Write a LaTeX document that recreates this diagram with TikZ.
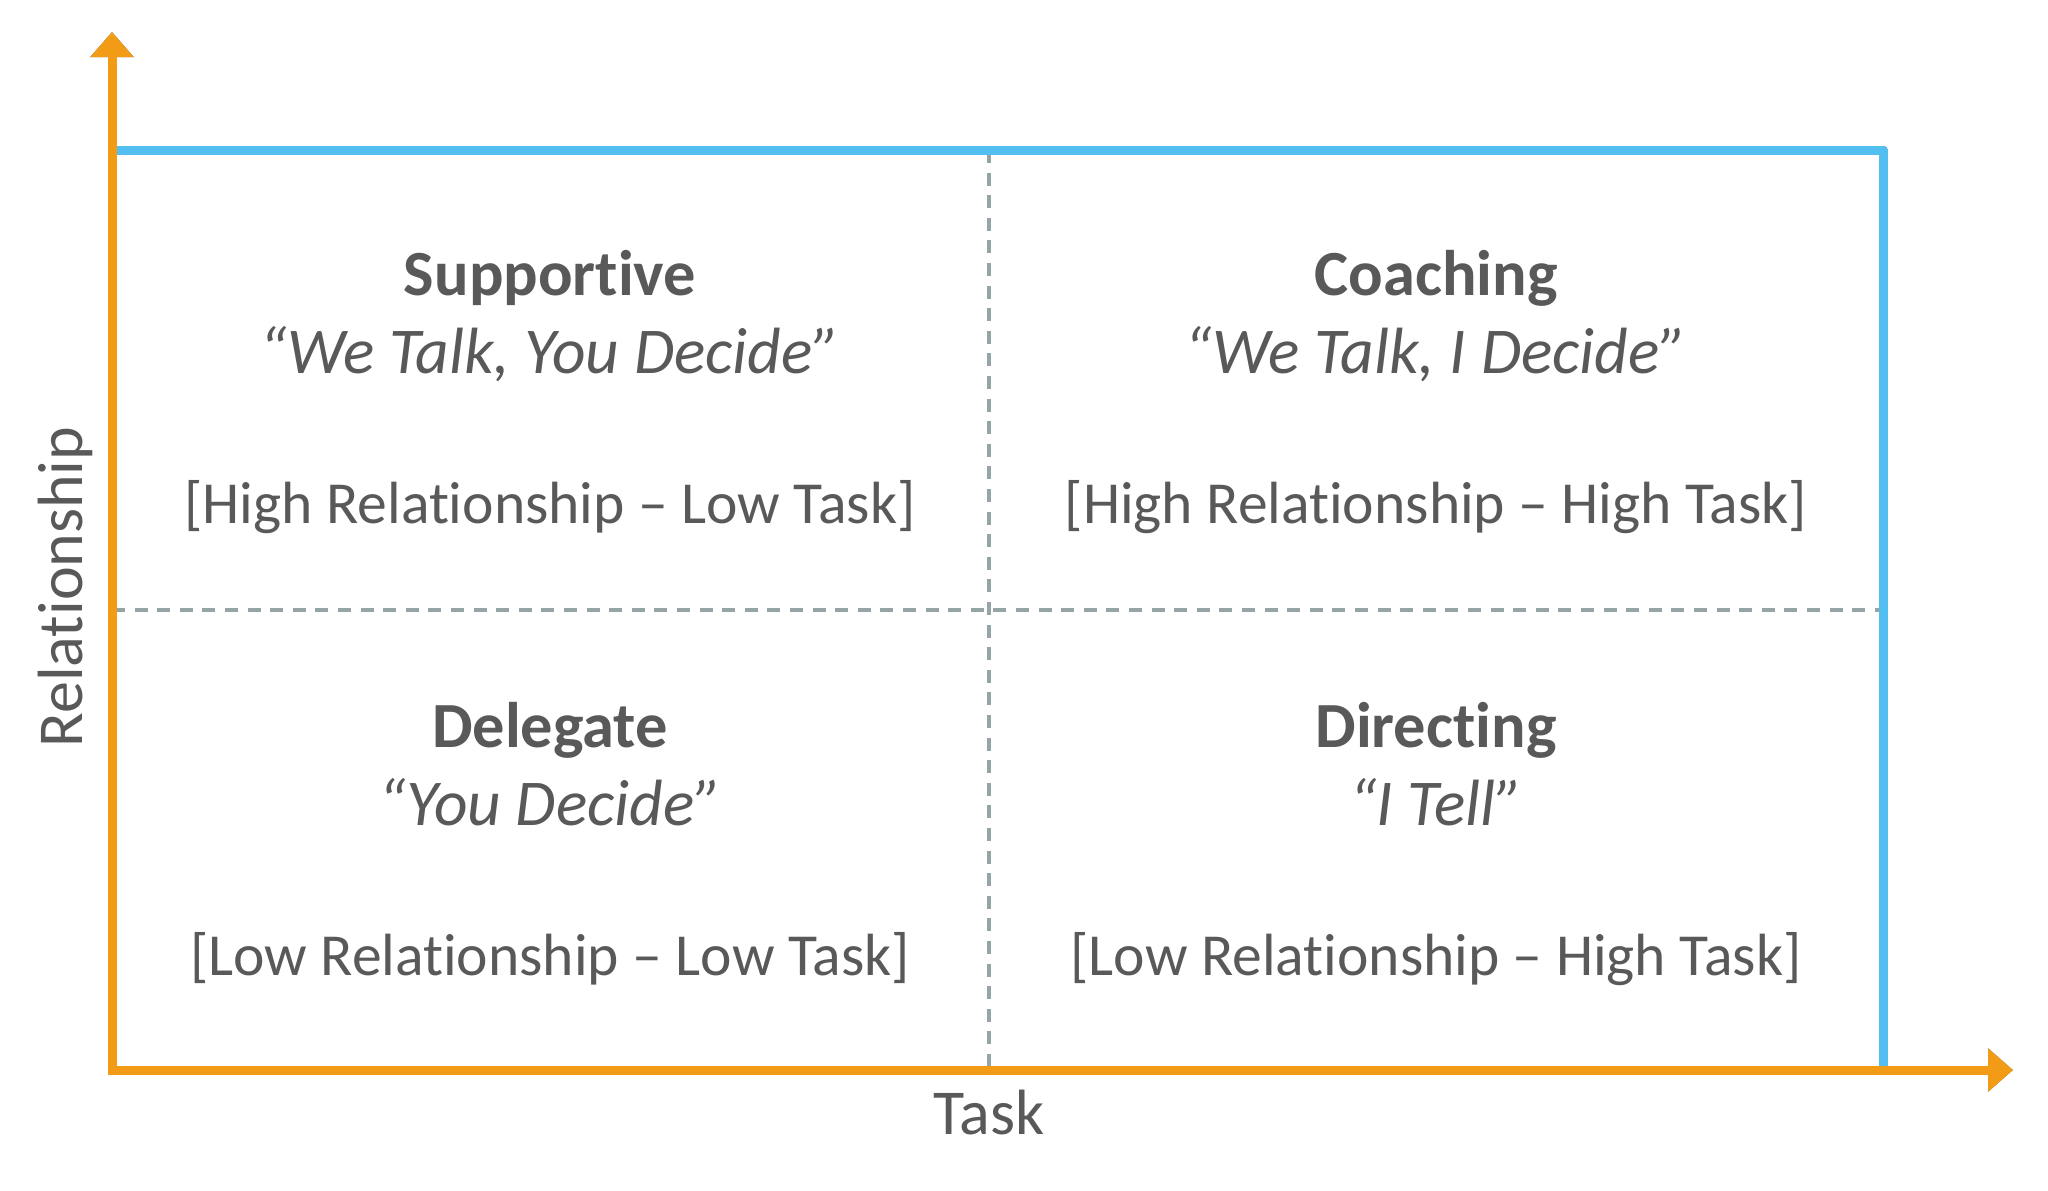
\documentclass[tikz,border=0pt]{standalone}
\usepackage{fontspec}
\setmainfont{Carlito}[Ligatures={NoCommon}]
\usetikzlibrary{arrows.meta}
\definecolor{axisorange}{HTML}{F29B16}
\definecolor{frameblue}{HTML}{53BEF0}
\definecolor{gridgray}{HTML}{95A5A6}
\definecolor{textgray}{HTML}{595959}
\definecolor{edgegray}{HTML}{56656B}
\tikzset{
  heading/.style={anchor=base, text=textgray, font=\fontsize{32.2}{38}\selectfont\bfseries},
  motto/.style={anchor=base, text=textgray, font=\fontsize{32.7}{38}\selectfont\itshape},
  levels/.style={anchor=base, text=textgray, font=\fontsize{29.8}{35}\selectfont},
  axislabel/.style={anchor=base, text=textgray, font=\fontsize{32}{38}\selectfont},
  gridline/.style={draw=gridgray, line width=1.6pt, dash pattern=on 6.5pt off 4.8pt},
  axisline/.style={line width=4.5pt, -{Triangle[length=12.5pt,width=21pt]}},
}
\begin{document}
\begin{tikzpicture}[x=0.5pt,y=-0.5pt]
  \useasboundingbox (0,0) rectangle (2048,1190);
  % corner points of the grid
  \coordinate (origin) at (112,1070);
  \coordinate (ytip) at (112,32);
  \coordinate (xstart) at (108,1070);
  \coordinate (xtip) at (2013,1070);
  \coordinate (tl) at (112,150);
  \coordinate (tr) at (1883,150);
  \coordinate (br) at (1883,1070);
  \coordinate (midtop) at (989,150);
  \coordinate (midbot) at (989,1070);
  \coordinate (midleft) at (112,610);
  \coordinate (midright) at (1883,610);

  % dashed quadrant dividers
  \draw[gridline] (midtop) -- (midbot);
  \draw[gridline] (midleft) -- (midright);

  % blue frame (top and right) with a thin dark edge
  \draw[edgegray, line width=4.5pt, line join=round, shift={(2,2)}] (tl) -- (tr) -- (br);
  \draw[frameblue, line width=4.5pt, line join=round] (tl) -- (tr) -- (br);

  % orange axes with a thin dark edge
  \begin{scope}[shift={(2,2)}]
    \draw[axisline, edgegray] (origin) -- (ytip);
    \draw[axisline, edgegray] (xstart) -- (xtip);
  \end{scope}
  \draw[axisline, axisorange] (origin) -- (ytip);
  \draw[axisline, axisorange] (xstart) -- (xtip);

  % axis labels
  \node[axislabel] (task) at (989,1134) {Task};
  \node[axislabel, rotate=90] (rel) at (82,587) {Relationship};

  % upper left quadrant
  \node[heading] (sup) at (550,295) {Supportive};
  \node[motto] (supq) at (550,373) {“We Talk, You Decide”};
  \node[levels] (supl) at (550,523) {[High Relationship – Low Task]};

  % upper right quadrant
  \node[heading] (coa) at (1436,295) {Coaching};
  \node[motto] (coaq) at (1436,373) {“We Talk, I Decide”};
  \node[levels] (coal) at (1436,523) {[High Relationship – High Task]};

  % lower left quadrant
  \node[heading] (del) at (550,747) {Delegate};
  \node[motto] (delq) at (550,825) {“You Decide”};
  \node[levels] (dell) at (550,975) {[Low Relationship – Low Task]};

  % lower right quadrant
  \node[heading] (dir) at (1436,747) {Directing};
  \node[motto] (dirq) at (1436,825) {“I Tell”};
  \node[levels] (dirl) at (1436,975) {[Low Relationship – High Task]};
\end{tikzpicture}
\end{document}
